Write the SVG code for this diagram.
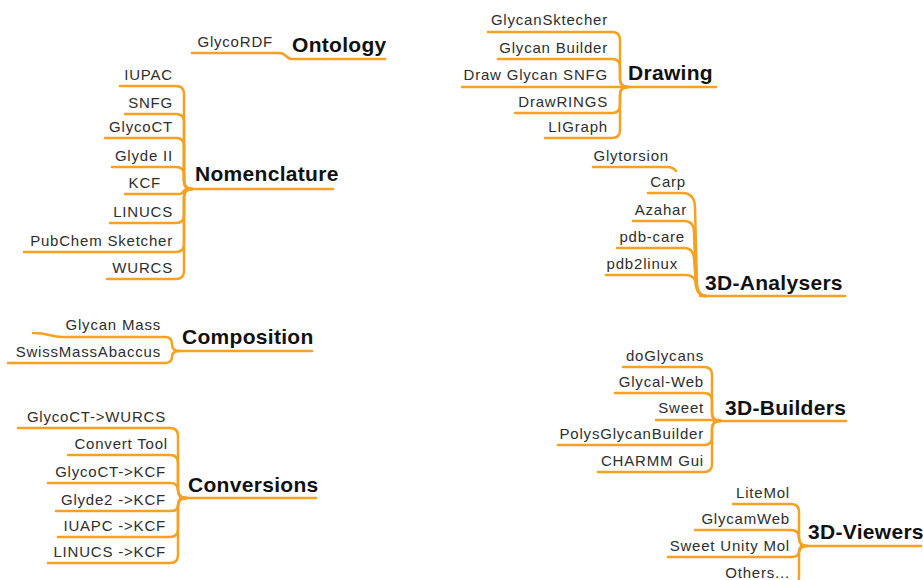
<svg xmlns="http://www.w3.org/2000/svg" width="923" height="580" viewBox="0 0 923 580">
<style>
.c{fill:none;stroke:#F7A123;stroke-width:2.5;stroke-linecap:round;stroke-linejoin:round}
.l{font-family:"Liberation Sans",Arial,sans-serif;font-size:15px;letter-spacing:0.8px;fill:#2e2e2e;text-anchor:end}
.h{font-family:"Liberation Sans",Arial,sans-serif;font-size:21px;font-weight:bold;letter-spacing:0.3px;fill:#111}
</style>
<rect width="923" height="580" fill="#fff"/>
<g id="connectors">
<path class="c" d="M 192 53 H 280 C 286 53 286 59 292 59 H 385"/>
<path class="c" d="M 120 86 H 176 Q 184 86 184 94 V 181 Q 184 189 192 189"/>
<path class="c" d="M 125 114 H 176 Q 184 114 184 122 V 181 Q 184 189 192 189"/>
<path class="c" d="M 105 138 H 176 Q 184 138 184 146 V 181 Q 184 189 192 189"/>
<path class="c" d="M 112 167 H 176 Q 184 167 184 175 V 181 Q 184 189 192 189"/>
<path class="c" d="M 125 194 H 180 C 183 194 183 189 188 189"/>
<path class="c" d="M 110 223 H 176 Q 184 223 184 215 V 197 Q 184 189 192 189"/>
<path class="c" d="M 24 252 H 176 Q 184 252 184 244 V 197 Q 184 189 192 189"/>
<path class="c" d="M 107 279 H 176 Q 184 279 184 271 V 197 Q 184 189 192 189"/>
<path class="c" d="M 186 189 H 333"/>
<path class="c" d="M 33 333 C 50 333 50 337 62 337 H 165 Q 172 337 172 344 Q 172 351 179 351"/>
<path class="c" d="M 8 363 H 165 Q 172 363 172 357 Q 172 351 179 351"/>
<path class="c" d="M 176 351 H 312"/>
<path class="c" d="M 18 428 H 170 Q 178 428 178 436 V 490 Q 178 498 186 498"/>
<path class="c" d="M 68 455 H 170 Q 178 455 178 463 V 490 Q 178 498 186 498"/>
<path class="c" d="M 48 483 H 170 Q 178 483 178 490 Q 178 498 186 498"/>
<path class="c" d="M 56 511 H 171 Q 178 511 178 505 Q 178 498 186 498"/>
<path class="c" d="M 58 537 H 170 Q 178 537 178 529 V 506 Q 178 498 186 498"/>
<path class="c" d="M 48 563 H 170 Q 178 563 178 555 V 506 Q 178 498 186 498"/>
<path class="c" d="M 180 498 H 316"/>
<path class="c" d="M 488 32 H 612 Q 620 32 620 40 V 79 Q 620 87 628 87"/>
<path class="c" d="M 498 59 H 612 Q 620 59 620 67 V 79 Q 620 87 628 87"/>
<path class="c" d="M 462 87 H 628"/>
<path class="c" d="M 515 113 H 612 Q 620 113 620 105 V 95 Q 620 87 628 87"/>
<path class="c" d="M 545 138 H 612 Q 620 138 620 130 V 95 Q 620 87 628 87"/>
<path class="c" d="M 622 87 H 716"/>
<path class="c" d="M 593 167 H 668 Q 673 167 676 171"/>
<path class="c" d="M 648 193 H 682 Q 695 193 695 208 L 697 286 Q 698 296 706 296"/>
<path class="c" d="M 633 221 H 684 Q 694 221 694 232 L 696 286 Q 698 296 706 296"/>
<path class="c" d="M 617 248 H 684 Q 693 248 694 258 L 696 286 Q 698 296 706 296"/>
<path class="c" d="M 606 275 H 686 Q 695 275 697 286 Q 699 296 706 296"/>
<path class="c" d="M 700 296 H 845"/>
<path class="c" d="M 623 367 H 704 Q 712 367 712 375 V 413 Q 712 421 720 421"/>
<path class="c" d="M 615 393 H 704 Q 712 393 712 401 V 413 Q 712 421 720 421"/>
<path class="c" d="M 656 420 H 720"/>
<path class="c" d="M 558 445 H 704 Q 712 445 712 437 V 429 Q 712 421 720 421"/>
<path class="c" d="M 598 472 H 704 Q 712 472 712 464 V 429 Q 712 421 720 421"/>
<path class="c" d="M 714 421 H 846"/>
<path class="c" d="M 733 504 H 791 Q 799 504 799 512 V 538 Q 799 546 807 546"/>
<path class="c" d="M 695 530 H 791 Q 799 530 799 538 Q 799 546 807 546"/>
<path class="c" d="M 668 557 H 792 Q 799 557 799 551 Q 799 546 806 546"/>
<path class="c" d="M 700 585 H 791 Q 799 585 799 577 V 554 Q 799 546 807 546"/>
<path class="c" d="M 801 546 H 921"/>
</g>
<g id="ontology"><text class="h" x="292" y="52">Ontology</text><text class="l" x="273" y="47">GlycoRDF</text></g>
<g id="nomenclature"><text class="h" x="195" y="181">Nomenclature</text>
<text class="l" x="173" y="80">IUPAC</text>
<text class="l" x="173" y="108">SNFG</text>
<text class="l" x="173" y="132">GlycoCT</text>
<text class="l" x="173" y="161">Glyde II</text>
<text class="l" x="161" y="188">KCF</text>
<text class="l" x="173" y="217">LINUCS</text>
<text class="l" x="173" y="246">PubChem  Sketcher</text>
<text class="l" x="173" y="273">WURCS</text></g>
<g id="composition"><text class="h" x="182" y="344">Composition</text>
<text class="l" x="161" y="330">Glycan Mass</text>
<text class="l" x="161" y="357">SwissMassAbaccus</text></g>
<g id="conversions"><text class="h" x="188" y="492">Conversions</text>
<text class="l" x="166" y="422">GlycoCT-&gt;WURCS</text>
<text class="l" x="168" y="449">Convert Tool</text>
<text class="l" x="166" y="477">GlycoCT-&gt;KCF</text>
<text class="l" x="166" y="505">Glyde2 -&gt;KCF</text>
<text class="l" x="166" y="531">IUAPC -&gt;KCF</text>
<text class="l" x="166" y="557">LINUCS -&gt;KCF</text></g>
<g id="drawing"><text class="h" x="628" y="80">Drawing</text>
<text class="l" x="608" y="25">GlycanSktecher</text>
<text class="l" x="608" y="53">Glycan Builder</text>
<text class="l" x="608" y="80">Draw Glycan SNFG</text>
<text class="l" x="608" y="107">DrawRINGS</text>
<text class="l" x="608" y="132">LIGraph</text></g>
<g id="glytorsion"><text class="l" x="669" y="161">Glytorsion</text></g>
<g id="analysers"><text class="h" x="705" y="290">3D-Analysers</text>
<text class="l" x="686" y="187">Carp</text>
<text class="l" x="687" y="215">Azahar</text>
<text class="l" x="685" y="242">pdb-care</text>
<text class="l" x="678" y="269">pdb2linux</text></g>
<g id="builders"><text class="h" x="725" y="415">3D-Builders</text>
<text class="l" x="704" y="361">doGlycans</text>
<text class="l" x="704" y="387">Glycal-Web</text>
<text class="l" x="704" y="413">Sweet</text>
<text class="l" x="704" y="439">PolysGlycanBuilder</text>
<text class="l" x="704" y="466">CHARMM Gui</text></g>
<g id="viewers"><text class="h" x="808" y="539">3D-Viewers</text>
<text class="l" x="790" y="498">LiteMol</text>
<text class="l" x="790" y="524">GlycamWeb</text>
<text class="l" x="790" y="551">Sweet Unity Mol</text>
<text class="l" x="790" y="578">Others...</text></g>
</svg>
